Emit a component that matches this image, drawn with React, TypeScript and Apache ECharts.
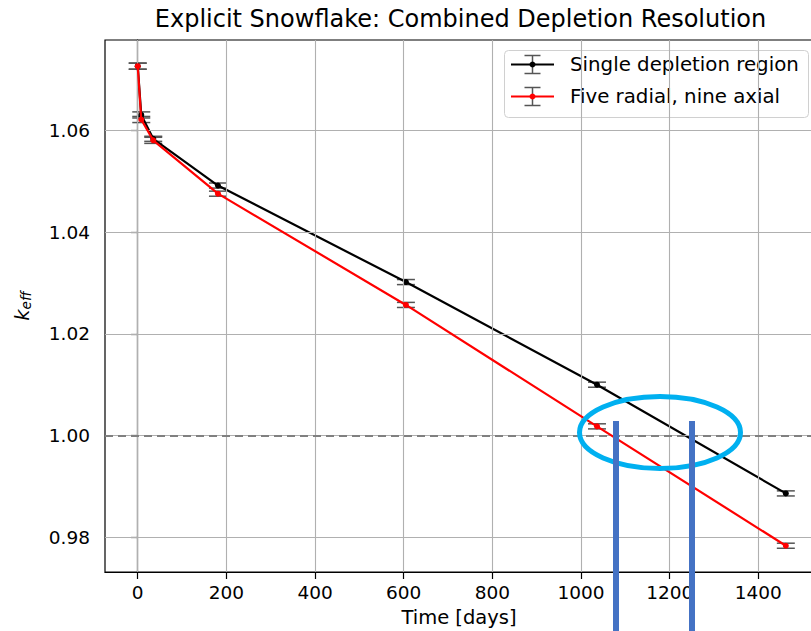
import React, { useEffect, useRef } from "react";
import * as echarts from "echarts";

const TITLE = "Explicit Snowflake: Combined Depletion Resolution";
const X_NAME = "Time [days]";
const SERIES_NAMES = ["Single depletion region", "Five radial, nine axial"];

const DAYS = [0, 8, 35, 181, 605, 1036, 1462];
const SINGLE = [1.0727, 1.0631, 1.0584, 1.0492, 1.0302, 1.01, 0.9886];
const FIVE_NINE = [1.0727, 1.0622, 1.0581, 1.0476, 1.0257, 1.0018, 0.9783];
const SINGLE_ERR = [0.0006, 0.0006, 0.0005, 0.0005, 0.0005, 0.0005, 0.0005];
const FIVE_NINE_ERR = [0.0006, 0.0006, 0.0006, 0.0005, 0.0005, 0.0005, 0.0005];

const X_TICKS = [0, 200, 400, 600, 800, 1000, 1200, 1400];
const Y_TICKS = [0.98, 1.0, 1.02, 1.04, 1.06];
const CRITICAL = 1.0;

const FONT = "DejaVu Sans";

function errorSeries(name: string, vals: number[], errs: number[]) {
  return {
    name: name + " err",
    type: "custom",
    z: 3,
    silent: true,
    data: DAYS.map((d, i) => [d, vals[i], errs[i]]),
    renderItem: (params: any, api: any) => {
      const x = api.value(0);
      const y = api.value(1);
      const e = api.value(2);
      const top = api.coord([x, y + e]);
      const bot = api.coord([x, y - e]);
      const hw = 9;
      const st = { stroke: "#555555", lineWidth: 1.5 };
      return {
        type: "group",
        children: [
          { type: "line", shape: { x1: top[0], y1: top[1], x2: bot[0], y2: bot[1] }, style: st },
          { type: "line", shape: { x1: top[0] - hw, y1: top[1], x2: top[0] + hw, y2: top[1] }, style: st },
          { type: "line", shape: { x1: bot[0] - hw, y1: bot[1], x2: bot[0] + hw, y2: bot[1] }, style: st },
        ],
      };
    },
  };
}

function legendEntry(y: number, color: string, label: string) {
  return [
    { type: "line", shape: { x1: 511, y1: y, x2: 554, y2: y }, style: { stroke: color, lineWidth: 2.2 } },
    { type: "line", shape: { x1: 532.5, y1: y - 9, x2: 532.5, y2: y + 9 }, style: { stroke: "#555", lineWidth: 1.5 } },
    { type: "line", shape: { x1: 524.5, y1: y - 9, x2: 540.5, y2: y - 9 }, style: { stroke: "#555", lineWidth: 1.5 } },
    { type: "line", shape: { x1: 524.5, y1: y + 9, x2: 540.5, y2: y + 9 }, style: { stroke: "#555", lineWidth: 1.5 } },
    { type: "circle", shape: { cx: 532.5, cy: y, r: 3 }, style: { fill: color } },
    {
      type: "text",
      x: 570,
      y: y,
      style: { text: label, fontFamily: FONT, fontSize: 19.8, fill: "#000", textVerticalAlign: "middle", verticalAlign: "middle" },
    },
  ];
}

export default function App() {
  const ref = useRef<HTMLDivElement>(null);
  useEffect(() => {
    if (!ref.current) return;
    const chart = echarts.init(ref.current, undefined, { renderer: "svg" });
    const option: any = {
      animation: false,
      backgroundColor: "#ffffff",
      textStyle: { fontFamily: FONT },
      grid: {
        left: 105,
        right: -2,
        top: 40,
        bottom: 59,
        show: true,
        borderColor: "#000",
        borderWidth: 1.2,
        containLabel: false,
        outerBoundsMode: "none",
      },
      xAxis: {
        type: "value",
        min: -73.8,
        max: 1523.3,
        name: X_NAME,
        nameLocation: "middle",
        nameGap: 35,
        nameTextStyle: { fontSize: 19.5, color: "#000", fontFamily: FONT },
        axisLine: { show: true, lineStyle: { color: "#000", width: 1.2 } },
        axisTick: { show: true, customValues: X_TICKS, length: 7, lineStyle: { color: "#000", width: 1.2 } },
        axisLabel: {
          customValues: X_TICKS,
          fontSize: 18.5,
          color: "#000",
          margin: 11,
          fontFamily: FONT,
          formatter: (v: number) => String(v),
        },
        splitLine: { show: false },
      },
      yAxis: {
        type: "value",
        min: 0.97313,
        max: 1.07785,
        name: "{k|k}{s|eff}",
        nameLocation: "middle",
        nameRotate: 90,
        nameGap: 72,
        nameTextStyle: {
          rich: {
            k: { fontSize: 19.5, fontStyle: "italic", fontFamily: FONT, color: "#000" },
            s: { fontSize: 13.5, fontStyle: "italic", fontFamily: FONT, color: "#000", padding: [8, 0, 0, 0] },
          },
        },
        axisLine: { show: true, lineStyle: { color: "#000", width: 1.2 } },
        axisTick: { show: true, customValues: Y_TICKS, length: 7, lineStyle: { color: "#000", width: 1.2 } },
        axisLabel: {
          customValues: Y_TICKS,
          fontSize: 18.5,
          color: "#000",
          margin: 15,
          fontFamily: FONT,
          formatter: (v: number) => v.toFixed(2),
        },
        splitLine: { show: false },
      },
      series: [
        {
          name: "grid",
          type: "line",
          data: [],
          z: 1,
          silent: true,
          markLine: {
            silent: true,
            symbol: "none",
            label: { show: false },
            lineStyle: { color: "#b0b0b0", width: 1.1, type: "solid" },
            data: [...X_TICKS.map((v) => ({ xAxis: v })), ...Y_TICKS.map((v) => ({ yAxis: v }))],
          },
        },
        {
          name: "critical",
          type: "line",
          data: [],
          z: 2,
          silent: true,
          markLine: {
            silent: true,
            symbol: "none",
            label: { show: false },
            lineStyle: { color: "#808080", width: 1.8, type: [8, 5] },
            data: [{ yAxis: CRITICAL }],
          },
        },
        errorSeries(SERIES_NAMES[0], SINGLE, SINGLE_ERR),
        errorSeries(SERIES_NAMES[1], FIVE_NINE, FIVE_NINE_ERR),
        {
          name: SERIES_NAMES[0],
          type: "line",
          z: 4,
          data: DAYS.map((d, i) => [d, SINGLE[i]]),
          symbol: "circle",
          symbolSize: 6,
          itemStyle: { color: "#000000" },
          lineStyle: { color: "#000000", width: 2.2 },
        },
        {
          name: SERIES_NAMES[1],
          type: "line",
          z: 5,
          data: DAYS.map((d, i) => [d, FIVE_NINE[i]]),
          symbol: "circle",
          symbolSize: 6,
          itemStyle: { color: "#ff0000" },
          lineStyle: { color: "#ff0000", width: 2.2 },
        },
      ],
      graphic: [
        {
          type: "text",
          x: 460.5,
          y: 18.5,
          style: { text: TITLE, fontFamily: FONT, fontSize: 24, fill: "#000", textAlign: "center", textVerticalAlign: "middle", align: "center", verticalAlign: "middle" },
          z: 10,
        },
        {
          type: "group",
          z: 10,
          children: [
            { type: "rect", shape: { x: 504.5, y: 50.5, width: 304, height: 67, r: 4 }, style: { fill: "rgba(255,255,255,0.85)", stroke: "#d0d0d0", lineWidth: 1 } },
            ...legendEntry(64.5, "#000000", SERIES_NAMES[0]),
            ...legendEntry(96.5, "#ff0000", SERIES_NAMES[1]),
          ],
        },
        {
          type: "ellipse",
          z: 20,
          shape: { cx: 660, cy: 432.5, rx: 80.5, ry: 36 },
          style: { fill: "none", stroke: "#00b0f0", lineWidth: 5 },
        },
        { type: "rect", z: 20, shape: { x: 613, y: 421, width: 6, height: 215 }, style: { fill: "#4472c4" } },
        { type: "rect", z: 20, shape: { x: 689, y: 421, width: 6, height: 215 }, style: { fill: "#4472c4" } },
      ],
    };
    chart.setOption(option);
    return () => chart.dispose();
  }, []);
  return <div ref={ref} style={{ position: "absolute", left: 0, top: 0, width: 811, height: 631 }} />;
}
